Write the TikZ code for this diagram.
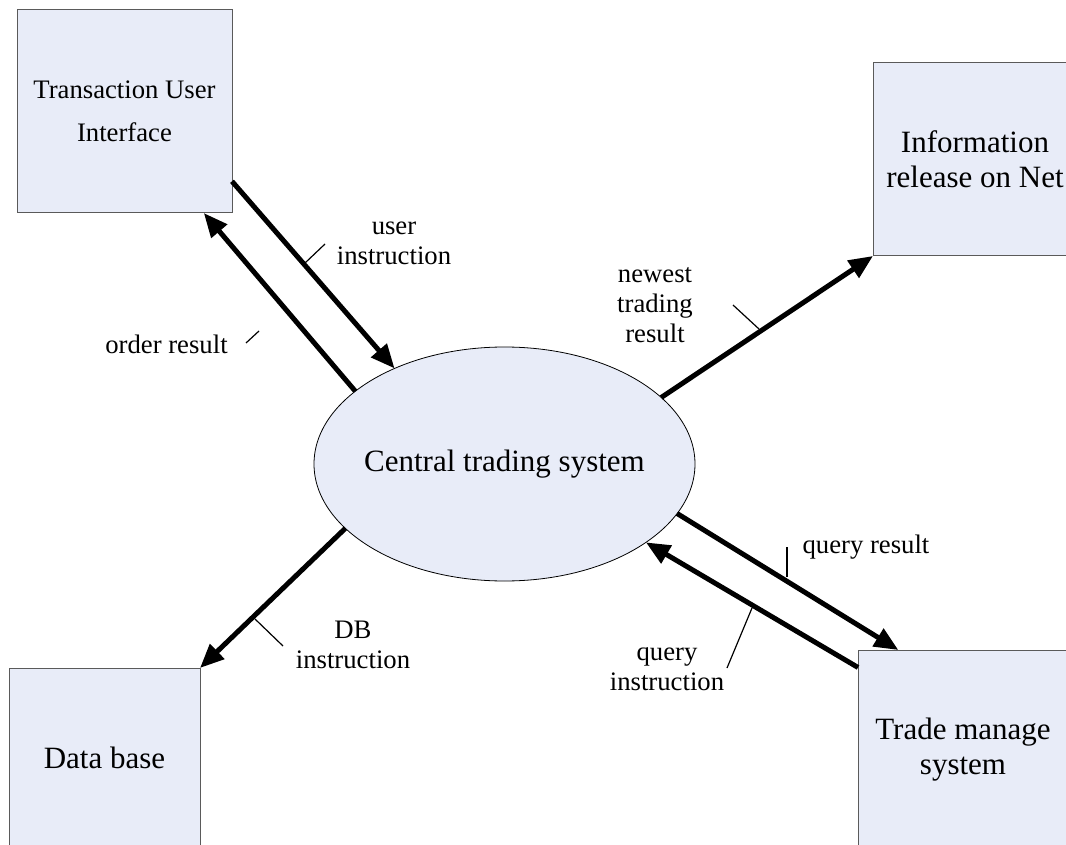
\documentclass[tikz,border=0pt]{standalone}
\usepackage{fontspec}
\setmainfont{Liberation Serif}
\usetikzlibrary{arrows.meta,shapes.geometric,calc}
\definecolor{boxfill}{RGB}{232,236,248}
\definecolor{boxline}{RGB}{90,90,90}
\begin{document}
\begin{tikzpicture}[x=1pt,y=-1pt,
  entity/.style={draw=boxline, line width=1pt, fill=boxfill, inner sep=0pt, outer sep=0pt, align=center, font=\fontsize{31}{35}\selectfont},
  flow/.style={line width=5pt, -{Triangle[length=24pt,width=20pt]}},
  lbl/.style={align=center, inner sep=0pt, font=\fontsize{26.7}{30}\selectfont},
  leader/.style={line width=1.2pt}]
\useasboundingbox (0,0) rectangle (1066,845);
\clip (0,0) rectangle (1066,845);
% entities
\node[entity, minimum width=215pt, minimum height=203pt, font=\fontsize{26.7}{43}\selectfont] (tui) at (124.5,111.5) {Transaction User\\Interface};
\node[entity, minimum width=204pt, minimum height=193pt] (info) at (975,159.5) {Information\\release on Net};
\node[entity, minimum width=191pt, minimum height=180pt] (db) at (104.5,758) {Data base};
\node[entity, minimum width=210pt, minimum height=199pt] (tms) at (963,749.5) {Trade manage\\system};
\node[ellipse, draw=black, line width=0.8pt, fill=boxfill, minimum width=381pt, minimum height=234pt, inner sep=0pt, outer sep=0pt, font=\fontsize{31}{35}\selectfont] (cts) at (504.5,464) {\makebox[0pt]{Central trading system}};
% flows
\draw[flow] (tui.-33.6) -- (cts.139);
\draw[flow] (cts.154) -- (tui.-52.6);
\draw[flow] (cts.23) -- (info.south west);
\draw[flow] (cts.202.5) -- (db.north east);
\draw[flow] (cts.344.8) -- (tms.123.2);
\draw[flow] (tms.142.2) -- (cts.331.8);
% labels
\node[lbl] (l1) at (394,243.5) {user\\instruction};
\node[lbl] (l2) at (166.5,344) {order result};
\node[lbl] (l3) at (655,305) {newest\\trading\\result};
\node[lbl] (l4) at (353,644.5) {DB\\instruction};
\node[lbl] (l5) at (866,547) {query result};
\node[lbl] (l6) at (667,669.5) {query\\instruction};
% leader ticks
\coordinate (t1a) at (305,263); \coordinate (t1b) at (325,244);
\coordinate (t2a) at (246,343); \coordinate (t2b) at (259,331);
\coordinate (t3a) at (733,305); \coordinate (t3b) at (759,329);
\coordinate (t4a) at (255,619); \coordinate (t4b) at (283,646);
\coordinate (t5a) at (787,547); \coordinate (t5b) at (787,577);
\coordinate (t6a) at (727,668); \coordinate (t6b) at (752,608);
\draw[leader] (t1a) -- (t1b);
\draw[leader] (t2a) -- (t2b);
\draw[leader] (t3a) -- (t3b);
\draw[leader] (t4a) -- (t4b);
\draw[leader] (t5a) -- (t5b);
\draw[leader] (t6a) -- (t6b);
\end{tikzpicture}
\end{document}
